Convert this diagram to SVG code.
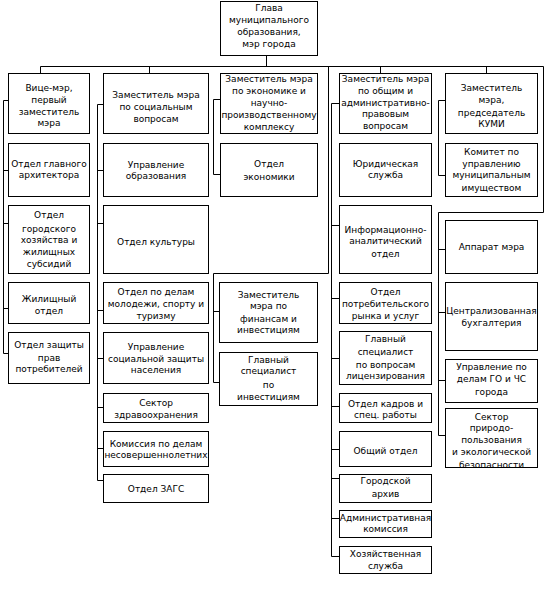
<svg xmlns="http://www.w3.org/2000/svg" width="544" height="590" viewBox="0 0 544 590">
<style>
.b{fill:#fff;stroke:#000;stroke-width:1}
.c{fill:none;stroke:#000;stroke-width:1}
text{font-family:"DejaVu Sans",Verdana,sans-serif;font-size:9px;text-anchor:middle;fill:#000}
</style>
<rect width="544" height="590" fill="#fff"/>
<g id="connectors">
<path class="c" d="M266.5 55.5V66.5M40.5 73V66.5H543.5V212.5H438.5V435.5H445M149.5 66.5V73M380.5 66.5V73M486.5 66.5V73"/>
<path class="c" d="M328.5 66.5V273.5H213.5V382.5H219M213.5 311.5H219"/>
<path class="c" d="M220 99.5H213.5V174.5H220"/>
<path class="c" d="M8 100.5H3.5V353.5H8M3.5 170.5H8M3.5 223.5H8M3.5 308.5H8"/>
<path class="c" d="M103 104.5H97.5V480.5H103M97.5 170.5H103M97.5 223.5H103M97.5 310.5H103M97.5 358.5H103M97.5 407.5H103M97.5 448.5H103"/>
<path class="c" d="M339 103.5H331.5V556.5H339M331.5 225.5H339M331.5 298.5H339M331.5 358.5H339M331.5 406.5H339M331.5 449.5H339M331.5 478.5H339M331.5 518.5H339"/>
<path class="c" d="M445 100.5H438.5V175.5H445M438.5 249.5H445M438.5 312.5H445M438.5 380.5H445"/>
</g>
<g id="n-head"><rect class="b" x="220.5" y="1.5" width="97" height="54"/><text x="269"><tspan x="269" y="11.2">Глава</tspan><tspan x="269" y="23.2">муниципального</tspan><tspan x="269" y="35.2">образования,</tspan><tspan x="269" y="47.2">мэр города</tspan></text></g>
<g id="n-vice"><rect class="b" x="8.5" y="73.5" width="81" height="60"/><text><tspan x="49" y="91">Вице-мэр,</tspan><tspan x="49" y="103">первый</tspan><tspan x="49" y="114.5">заместитель</tspan><tspan x="49" y="126">мэра</tspan></text></g>
<g id="n-soc"><rect class="b" x="103.5" y="73.5" width="105" height="60"/><text><tspan x="156" y="97.5">Заместитель мэра</tspan><tspan x="156" y="110">по социальным</tspan><tspan x="156" y="122">вопросам</tspan></text></g>
<g id="n-econ"><rect class="b" x="220.5" y="73.5" width="97" height="60"/><text><tspan x="269" y="82.2">Заместитель мэра</tspan><tspan x="269" y="94.2">по экономике и</tspan><tspan x="269" y="106.2">научно-</tspan><tspan x="269" y="118.2">производственному</tspan><tspan x="269" y="130.2">комплексу</tspan></text></g>
<g id="n-adm"><rect class="b" x="339.5" y="73.5" width="92" height="60"/><text><tspan x="385.5" y="82.2">Заместитель мэра</tspan><tspan x="385.5" y="93.9">по общим и</tspan><tspan x="385.5" y="105.5">административно-</tspan><tspan x="385.5" y="117.2">правовым</tspan><tspan x="385.5" y="128.9">вопросам</tspan></text></g>
<g id="n-kumi"><rect class="b" x="445.5" y="73.5" width="92" height="60"/><text><tspan x="491.5" y="90.5">Заместитель</tspan><tspan x="491.5" y="103.2">мэра,</tspan><tspan x="491.5" y="115.5">председатель</tspan><tspan x="491.5" y="126.5">КУМИ</tspan></text></g>
<g id="n-arch"><rect class="b" x="8.5" y="143.5" width="81" height="53"/><text><tspan x="49" y="167.2">Отдел главного</tspan><tspan x="49" y="178.2">архитектора</tspan></text></g>
<g id="n-edu"><rect class="b" x="103.5" y="143.5" width="105" height="53"/><text><tspan x="156" y="168.2">Управление</tspan><tspan x="156" y="179.2">образования</tspan></text></g>
<g id="n-ecodep"><rect class="b" x="220.5" y="143.5" width="97" height="53"/><text><tspan x="269" y="166.5">Отдел</tspan><tspan x="269" y="179.9">экономики</tspan></text></g>
<g id="n-jur"><rect class="b" x="339.5" y="143.5" width="92" height="53"/><text><tspan x="385.5" y="166.5">Юридическая</tspan><tspan x="385.5" y="178.2">служба</tspan></text></g>
<g id="n-kom"><rect class="b" x="445.5" y="143.5" width="92" height="53"/><text><tspan x="491.5" y="154.9">Комитет по</tspan><tspan x="491.5" y="166.5">управлению</tspan><tspan x="491.5" y="178.2">муниципальным</tspan><tspan x="491.5" y="190.5">имуществом</tspan></text></g>
<g id="n-gkh"><rect class="b" x="8.5" y="205.5" width="81" height="68"/><text><tspan x="49" y="218.2">Отдел</tspan><tspan x="49" y="231.5">городского</tspan><tspan x="49" y="243.2">хозяйства и</tspan><tspan x="49" y="254.9">жилищных</tspan><tspan x="49" y="267.2">субсидий</tspan></text></g>
<g id="n-cult"><rect class="b" x="103.5" y="205.5" width="105" height="68"/><text><tspan x="156" y="244.9">Отдел культуры</tspan></text></g>
<g id="n-info"><rect class="b" x="339.5" y="205.5" width="92" height="68"/><text><tspan x="385.5" y="233.2">Информационно-</tspan><tspan x="385.5" y="244.2">аналитический</tspan><tspan x="385.5" y="256.5">отдел</tspan></text></g>
<g id="n-app"><rect class="b" x="445.5" y="220.5" width="92" height="53"/><text><tspan x="491.5" y="249.9">Аппарат мэра</tspan></text></g>
<g id="n-housing"><rect class="b" x="8.5" y="282.5" width="81" height="41"/><text><tspan x="49" y="301.5">Жилищный</tspan><tspan x="49" y="313.9">отдел</tspan></text></g>
<g id="n-youth"><rect class="b" x="103.5" y="282.5" width="105" height="41"/><text><tspan x="156" y="294.9">Отдел по делам</tspan><tspan x="156" y="306.5">молодежи, спорту и</tspan><tspan x="156" y="318.9">туризму</tspan></text></g>
<g id="n-fin"><rect class="b" x="219.5" y="282.5" width="98" height="60"/><text><tspan x="268.5" y="297.5">Заместитель</tspan><tspan x="268.5" y="309.2">мэра по</tspan><tspan x="268.5" y="321.5">финансам и</tspan><tspan x="268.5" y="333.2">инвестициям</tspan></text></g>
<g id="n-market"><rect class="b" x="339.5" y="282.5" width="92" height="41"/><text><tspan x="385.5" y="294.9">Отдел</tspan><tspan x="385.5" y="306.5">потребительского</tspan><tspan x="385.5" y="318.9">рынка и услуг</tspan></text></g>
<g id="n-buh"><rect class="b" x="445.5" y="282.5" width="92" height="68"/><text><tspan x="491.5" y="314.2">Централизованная</tspan><tspan x="491.5" y="325.9">бухгалтерия</tspan></text></g>
<g id="n-consumer"><rect class="b" x="8.5" y="332.5" width="81" height="51"/><text><tspan x="49" y="348.2">Отдел защиты</tspan><tspan x="49" y="360.5">прав</tspan><tspan x="49" y="372.2">потребителей</tspan></text></g>
<g id="n-socprot"><rect class="b" x="103.5" y="332.5" width="105" height="51"/><text><tspan x="156" y="349.9">Управление</tspan><tspan x="156" y="361.5">социальной защиты</tspan><tspan x="156" y="373.2">населения</tspan></text></g>
<g id="n-invest"><rect class="b" x="219.5" y="352.5" width="98" height="53"/><text><tspan x="268.5" y="363.2">Главный</tspan><tspan x="268.5" y="374.2">специалист</tspan><tspan x="268.5" y="388.2">по</tspan><tspan x="268.5" y="399.9">инвестициям</tspan></text></g>
<g id="n-lic"><rect class="b" x="339.5" y="331.5" width="92" height="53"/><text><tspan x="385.5" y="342.2">Главный</tspan><tspan x="385.5" y="354.9">специалист</tspan><tspan x="385.5" y="367.5">по вопросам</tspan><tspan x="385.5" y="379.2">лицензирования</tspan></text></g>
<g id="n-gochs"><rect class="b" x="445.5" y="359.5" width="92" height="43"/><text><tspan x="491.5" y="369.9">Управление по</tspan><tspan x="491.5" y="382.2">делам ГО и ЧС</tspan><tspan x="491.5" y="394.9">города</tspan></text></g>
<g id="n-health"><rect class="b" x="103.5" y="393.5" width="105" height="29"/><text><tspan x="156" y="405.9">Сектор</tspan><tspan x="156" y="418.2">здравоохранения</tspan></text></g>
<g id="n-hr"><rect class="b" x="339.5" y="393.5" width="92" height="29"/><text><tspan x="385.5" y="407.2">Отдел кадров и</tspan><tspan x="385.5" y="418.2">спец. работы</tspan></text></g>
<g id="n-eco"><rect x="445.5" y="408.5" width="92" height="59" fill="#fff"/><text><tspan x="491.5" y="419.7">Сектор</tspan><tspan x="491.5" y="430.7">природо-</tspan><tspan x="491.5" y="443">пользования</tspan><tspan x="491.5" y="455.4">и экологической</tspan><tspan x="491.5" y="467.6">безопасности</tspan></text><rect x="445.5" y="408.5" width="92" height="59" fill="none" stroke="#000"/><rect x="446" y="468" width="92" height="5" fill="#fff"/></g>
<g id="n-minors"><rect class="b" x="103.5" y="431.5" width="105" height="35"/><text><tspan x="156" y="446.5">Комиссия по делам</tspan><tspan x="156" y="457.5">несовершеннолетних</tspan></text></g>
<g id="n-general"><rect class="b" x="339.5" y="431.5" width="92" height="35"/><text><tspan x="385.5" y="454.2">Общий отдел</tspan></text></g>
<g id="n-zags"><rect class="b" x="103.5" y="474.5" width="105" height="28"/><text><tspan x="156" y="491.5">Отдел ЗАГС</tspan></text></g>
<g id="n-archive"><rect class="b" x="339.5" y="474.5" width="92" height="28"/><text><tspan x="385.5" y="483.9">Городской</tspan><tspan x="385.5" y="497.2">архив</tspan></text></g>
<g id="n-admcom"><rect class="b" x="339.5" y="510.5" width="92" height="27"/><text><tspan x="385.5" y="520.9">Административная</tspan><tspan x="385.5" y="531.5">комиссия</tspan></text></g>
<g id="n-hoz"><rect class="b" x="339.5" y="546.5" width="92" height="27"/><text><tspan x="385.5" y="557.2">Хозяйственная</tspan><tspan x="385.5" y="568.9">служба</tspan></text></g>
</svg>
